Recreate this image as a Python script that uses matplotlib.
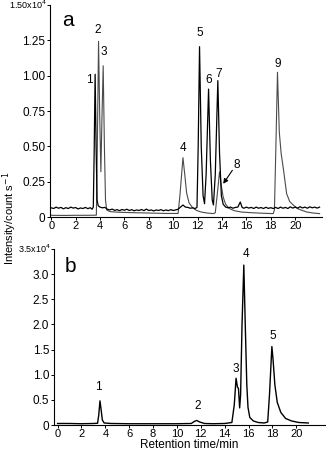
import matplotlib
matplotlib.use("Agg")
import matplotlib.pyplot as plt

plt.rcParams['font.family'] = ['Liberation Sans', 'DejaVu Sans']

# ---------------- Panel a: noisy trace (black) ----------------
a1_time = [0.0, 0.2, 0.4, 0.6, 0.8, 1.0, 1.2, 1.4, 1.6, 1.8, 2.0, 2.2, 2.4, 2.6, 2.8,
           3.0, 3.2, 3.35, 3.45, 3.52, 3.6, 3.68, 3.76, 3.85, 4.0, 4.2, 4.4, 4.6, 4.8,
           5.0, 5.2, 5.4, 5.6, 5.8, 6.0, 6.2, 6.4, 6.6, 6.8, 7.0, 7.2, 7.4, 7.6, 7.8,
           8.0, 8.2, 8.4, 8.6, 8.8, 9.0, 9.2, 9.4, 9.6, 9.8, 10.0, 10.2, 10.4, 10.6,
           10.8, 11.0, 11.2, 11.4, 11.6, 11.8, 11.95, 12.05, 12.16, 12.3, 12.45, 12.57,
           12.7, 12.9, 13.05, 13.2, 13.3, 13.45, 13.66, 13.8, 13.95, 14.1, 14.3, 14.5,
           14.7, 14.9, 15.1, 15.3, 15.5, 15.65, 15.8, 16.0, 16.2, 16.4, 16.6, 16.8,
           17.0, 17.2, 17.4, 17.6, 17.8, 18.0, 18.2, 18.4, 18.6, 18.8, 19.0, 19.2,
           19.4, 19.6, 19.8, 20.0, 20.2, 20.4, 20.6, 20.8, 21.0, 21.2, 21.4, 21.6,
           21.8, 22.0]
a1_signal = [0.065, 0.060, 0.070, 0.062, 0.068, 0.058, 0.066, 0.060, 0.070, 0.063,
             0.067, 0.057, 0.064, 0.060, 0.068, 0.059, 0.066, 0.055, 0.070, 0.45,
             1.01, 0.50, 0.12, 0.08, 0.070, 0.065, 0.068, 0.055, 0.050, 0.056, 0.047,
             0.052, 0.045, 0.053, 0.048, 0.055, 0.046, 0.052, 0.044, 0.050, 0.046,
             0.053, 0.045, 0.056, 0.046, 0.050, 0.043, 0.050, 0.046, 0.052, 0.044,
             0.050, 0.045, 0.052, 0.046, 0.050, 0.055, 0.070, 0.085, 0.070, 0.068,
             0.062, 0.065, 0.060, 0.068, 0.50, 1.205, 0.50, 0.15, 0.094, 0.30, 0.905,
             0.40, 0.12, 0.085, 0.30, 0.965, 0.45, 0.15, 0.09, 0.070, 0.065, 0.070,
             0.062, 0.068, 0.070, 0.106, 0.068, 0.062, 0.070, 0.063, 0.068, 0.060,
             0.070, 0.062, 0.067, 0.060, 0.069, 0.061, 0.066, 0.060, 0.068, 0.060,
             0.070, 0.062, 0.068, 0.060, 0.072, 0.063, 0.070, 0.062, 0.073, 0.064,
             0.070, 0.062, 0.072, 0.065, 0.070, 0.063, 0.070]

# ---------------- Panel a: smooth trace (grey) ----------------
a2_time = [0.0, 1.0, 2.0, 3.0, 3.7, 3.78, 3.88, 3.98, 4.07, 4.16, 4.26, 4.36, 4.45,
           4.55, 4.8, 5.5, 6.5, 7.5, 8.5, 9.5, 10.4, 10.55, 10.8, 10.95, 11.1, 11.3,
           11.6, 11.9, 12.3, 12.8, 13.3, 13.45, 13.6, 13.8, 13.95, 14.1, 14.3, 14.6,
           15.0, 15.6, 16.5, 17.5, 18.2, 18.3, 18.42, 18.55, 18.7, 18.85, 19.05, 19.3,
           19.55, 19.86, 20.3, 20.96, 21.5, 22.0]
a2_signal = [0.012, 0.011, 0.012, 0.012, 0.013, 0.50, 1.243, 0.70, 0.32, 0.70, 1.07,
             0.50, 0.12, 0.05, 0.038, 0.034, 0.031, 0.029, 0.027, 0.025, 0.025, 0.15,
             0.42, 0.30, 0.17, 0.10, 0.065, 0.047, 0.035, 0.028, 0.024, 0.030, 0.15,
             0.32, 0.22, 0.14, 0.09, 0.06, 0.045, 0.035, 0.030, 0.026, 0.024, 0.05,
             0.50, 1.024, 0.60, 0.45, 0.33, 0.165, 0.11, 0.083, 0.055, 0.035, 0.028,
             0.024]

# ---------------- Panel b trace ----------------
b_time = [0.0, 1.0, 2.0, 3.0, 3.35, 3.45, 3.55, 3.65, 3.75, 3.9, 4.5, 6.0, 8.0, 10.0,
          11.2, 11.45, 11.65, 11.9, 12.3, 13.0, 14.0, 14.6, 14.8, 14.95, 15.07, 15.15,
          15.25, 15.33, 15.45, 15.6, 15.72, 15.85, 15.95, 16.1, 16.4, 16.8, 17.3,
          17.6, 17.75, 17.95, 18.05, 18.2, 18.4, 18.7, 19.1, 19.6, 20.2, 21.0]
b_signal = [0.03, 0.03, 0.025, 0.03, 0.035, 0.20, 0.48, 0.30, 0.10, 0.04, 0.03, 0.025,
            0.025, 0.025, 0.03, 0.07, 0.09, 0.06, 0.03, 0.025, 0.03, 0.05, 0.40, 0.93,
            0.75, 0.73, 0.34, 0.60, 2.0, 3.18, 2.0, 0.80, 0.35, 0.15, 0.08, 0.05, 0.04,
            0.06, 0.60, 1.56, 1.30, 0.80, 0.45, 0.25, 0.13, 0.08, 0.05, 0.04]

# Peak labels
a_labels = ['1', '2', '3', '4', '5', '6', '7', '9']
a_label_x = [3.14, 3.84, 4.34, 10.8, 12.2, 12.95, 13.7, 18.6]
a_label_y = [0.97, 1.325, 1.17, 0.49, 1.30, 0.97, 1.015, 1.08]
b_labels = ['1', '2', '3', '4', '5']
b_label_x = [3.43, 11.77, 14.92, 15.8, 18.04]
b_label_y = [0.76, 0.38, 1.12, 3.41, 1.76]

a_yticks = [0, 0.25, 0.50, 0.75, 1.00, 1.25, 1.50]
a_yticklabels = ['0', '0.25', '0.50', '0.75', '1.00', '1.25', '']
b_yticks = [0, 0.5, 1.0, 1.5, 2.0, 2.5, 3.0, 3.5]
b_yticklabels = ['0', '0.5', '1.0', '1.5', '2.0', '2.5', '3.0', '']
xticks = list(range(0, 22, 2))

W, H = 326, 453
fig = plt.figure(figsize=(W / 100, H / 100), dpi=100)

axa = fig.add_axes([50 / W, 1 - 217 / H, 272 / W, 212 / H])
axb = fig.add_axes([54 / W, 1 - 425 / H, 271 / W, 176 / H])

axa.plot(a2_time, a2_signal, color='#4a4a4a', lw=0.8)
axa.plot(a1_time, a1_signal, color='black', lw=0.9)
axb.plot(b_time, b_signal, color='black', lw=1.0)

axa.set_xlim(-0.1, 22.2)
axa.set_ylim(0, 1.5)
axb.set_xlim(-0.3, 22.4)
axb.set_ylim(0, 3.5)

for ax, yt, ytl in [(axa, a_yticks, a_yticklabels), (axb, b_yticks, b_yticklabels)]:
    ax.set_xticks(xticks)
    ax.set_xticklabels([str(t) for t in xticks], fontsize=8)
    ax.set_yticks(yt)
    ax.set_yticklabels(ytl, fontsize=8.5)
    ax.tick_params(direction='out', length=2.5, width=0.7, pad=1)
    ax.tick_params(axis='x', pad=0.5)
    for s in ['top', 'right']:
        ax.spines[s].set_visible(False)
    for s in ['left', 'bottom']:
        ax.spines[s].set_linewidth(0.8)

axa.text(-0.4, 1.5, '1.50x10$^4$', fontsize=6.5, ha='right', va='center')
axb.text(-0.6, 3.5, '3.5x10$^4$', fontsize=6.5, ha='right', va='center')

axa.text(0.9, 1.39, 'a', fontsize=15, ha='left', va='center')
axb.text(0.6, 3.16, 'b', fontsize=15, ha='left', va='center')

for t, x, y in zip(a_labels, a_label_x, a_label_y):
    axa.text(x, y, t, fontsize=8.5, ha='center', va='center')
axa.text(15.2, 0.365, '8', fontsize=8.5, ha='center', va='center')
axa.annotate('', xy=(14.1, 0.235), xytext=(14.85, 0.33),
             arrowprops=dict(arrowstyle='-|>', color='black', lw=0.8,
                             shrinkA=0, shrinkB=0, mutation_scale=7))

for t, x, y in zip(b_labels, b_label_x, b_label_y):
    axb.text(x, y, t, fontsize=8.5, ha='center', va='center')

axb.set_xlabel('Retention time/min', fontsize=8.5, labelpad=0)
fig.text(10 / W, 1 - 218 / H, 'Intensity/count s$^{-1}$', rotation=90,
         fontsize=8, ha='center', va='center')

fig.savefig('out.png', dpi=100)
